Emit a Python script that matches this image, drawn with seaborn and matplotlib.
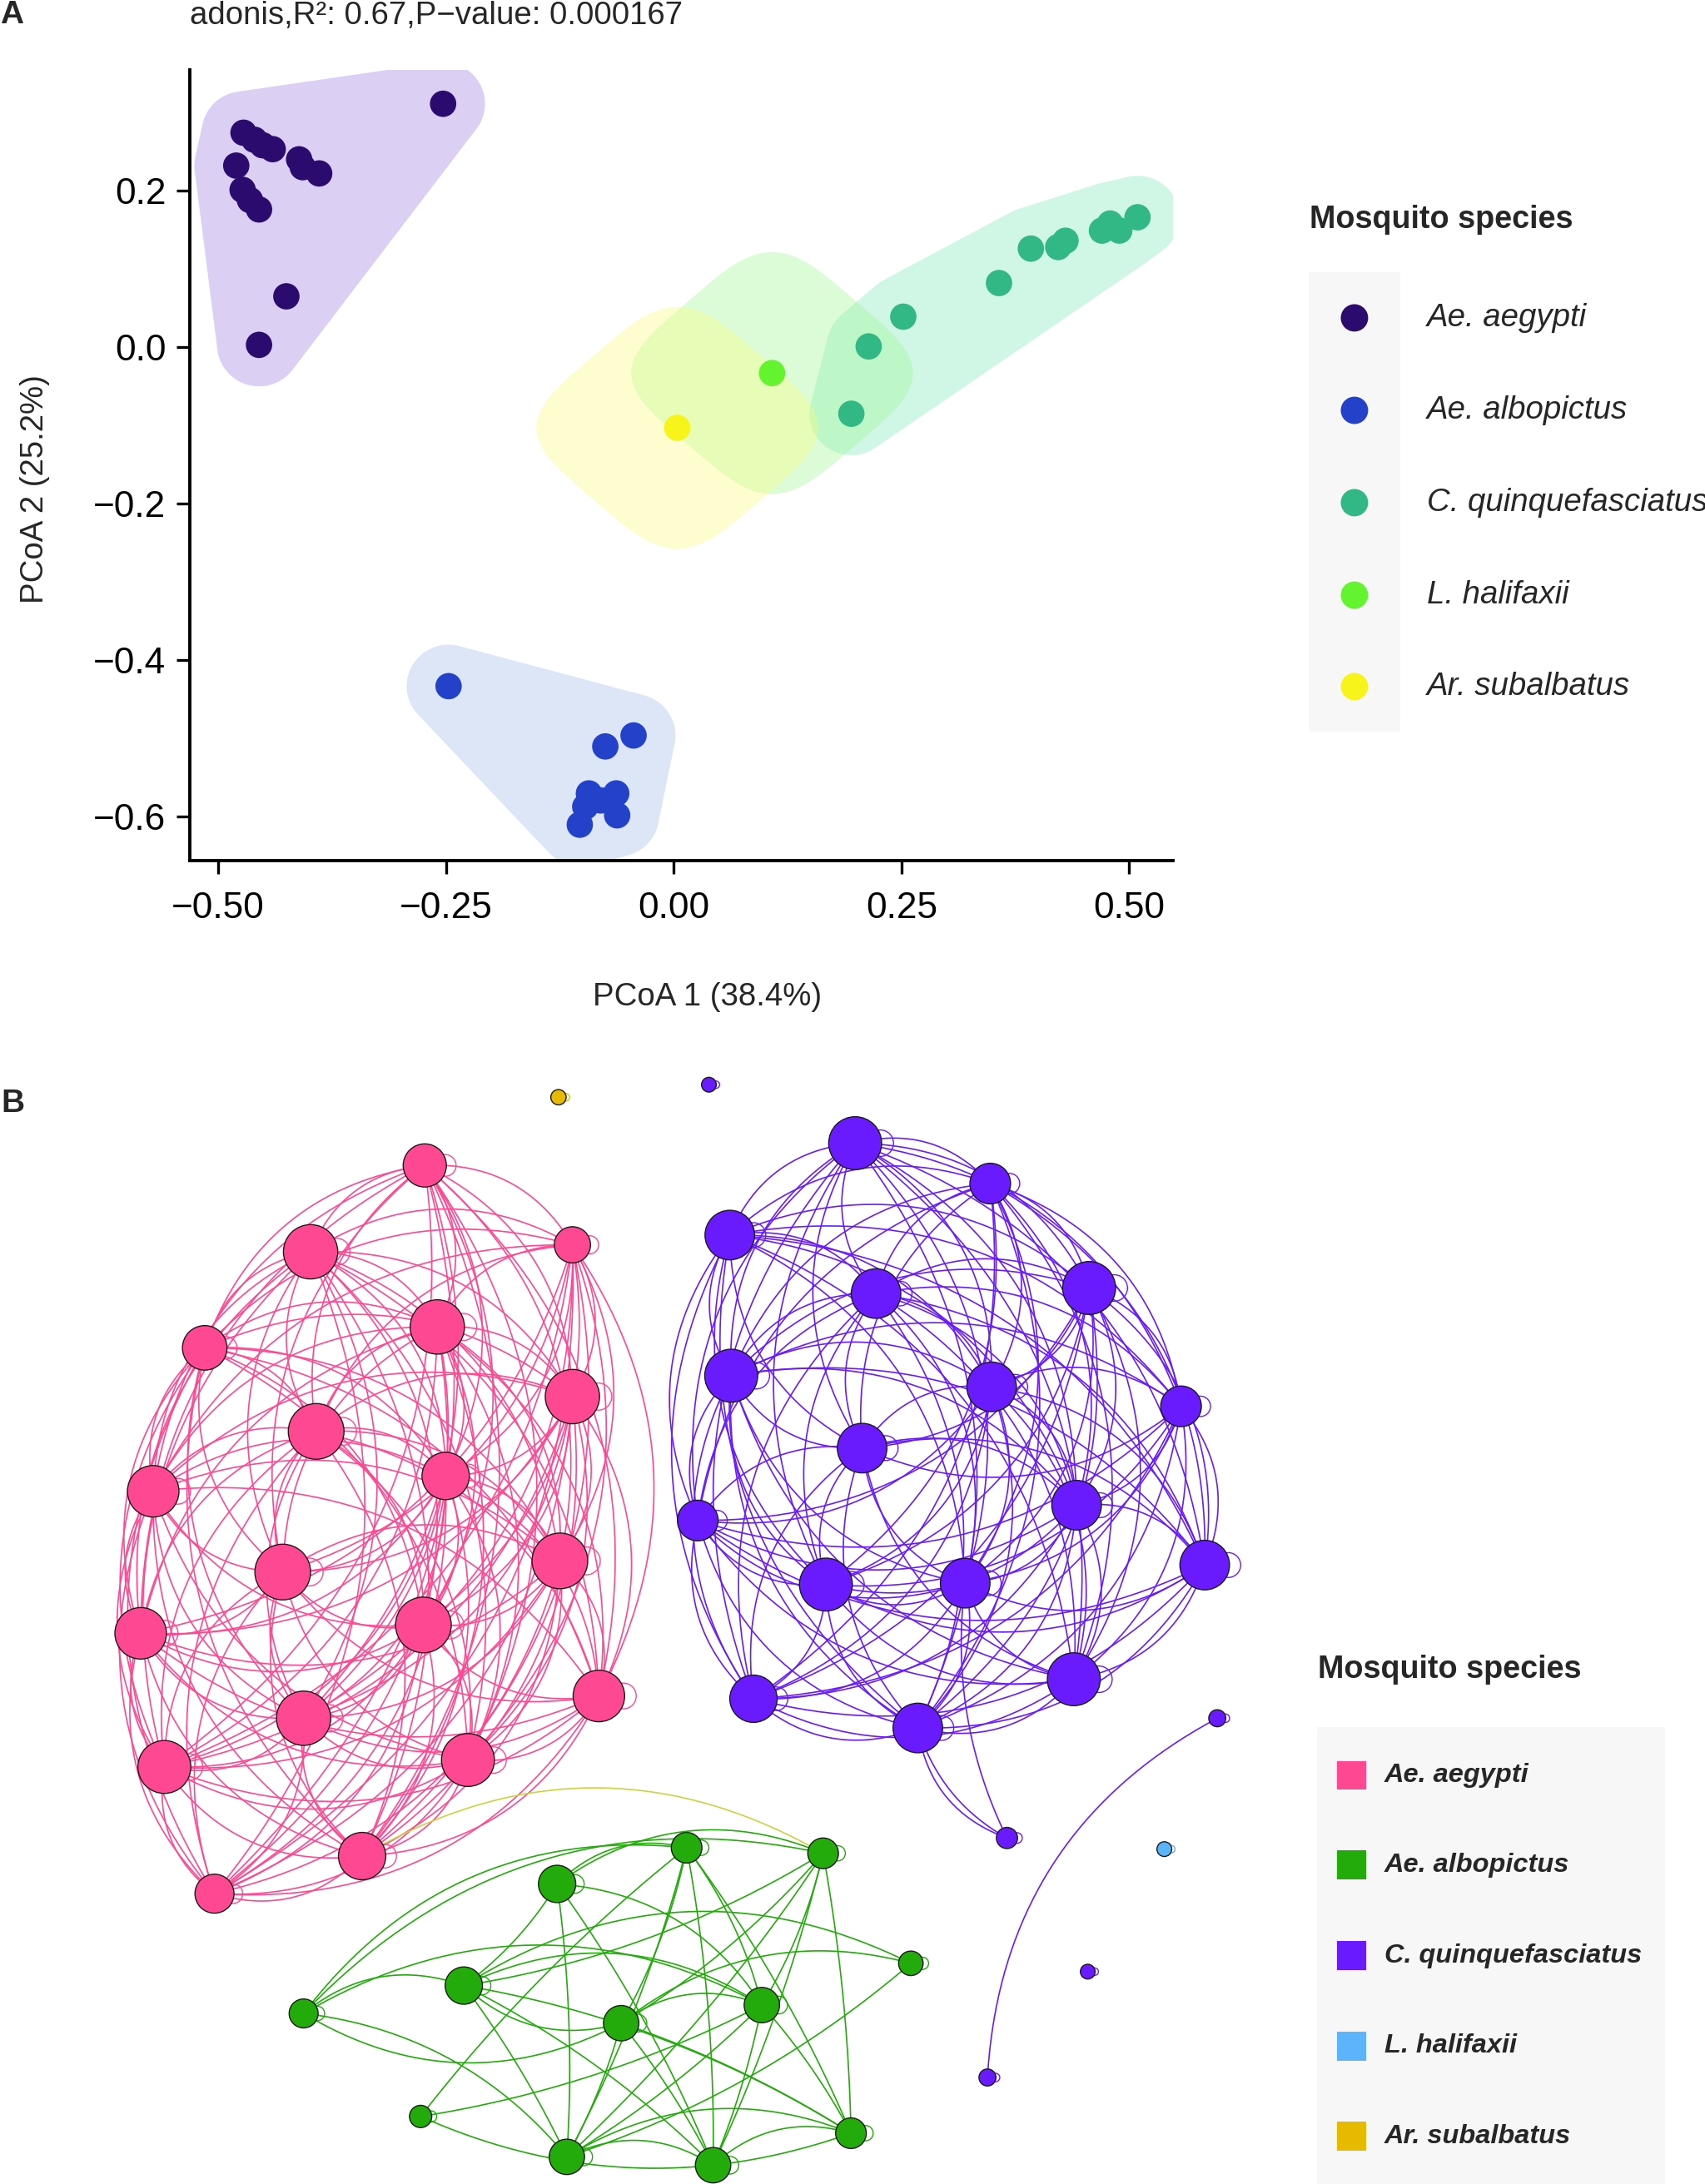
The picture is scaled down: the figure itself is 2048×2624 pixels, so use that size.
import numpy as np
import pandas as pd
import matplotlib
matplotlib.use("Agg")
import matplotlib.pyplot as plt
import seaborn as sns
from matplotlib.collections import LineCollection
from matplotlib.patches import Polygon, Rectangle, Circle

sns.set_theme(style="white")
plt.rcParams["font.family"] = ["Liberation Sans", "DejaVu Sans"]

#%% panel A data (PCoA)
species = ["Ae. aegypti", "Ae. albopictus", "C. quinquefasciatus", "L. halifaxii", "Ar. subalbatus"]
pcoa_colors = ["#2b0b6e", "#2342c9", "#31b885", "#63f42f", "#f7f41c"]
hull_colors = ["#9b76e2", "#9bb8e8", "#79e8b5", "#9bf990", "#fcfc79"]

aeg_x = [-0.253, -0.472, -0.460, -0.451, -0.440, -0.411, -0.407, -0.389, -0.480, -0.473, -0.465, -0.455, -0.425, -0.455]
aeg_y = [0.311, 0.274, 0.265, 0.258, 0.253, 0.240, 0.230, 0.222, 0.232, 0.201, 0.188, 0.176, 0.065, 0.003]
alb_x = [-0.247, -0.044, -0.075, -0.093, -0.063, -0.097, -0.062, -0.103, -0.080]
alb_y = [-0.433, -0.496, -0.510, -0.570, -0.570, -0.587, -0.598, -0.610, -0.579]
cqu_x = [0.195, 0.214, 0.252, 0.357, 0.392, 0.422, 0.430, 0.470, 0.479, 0.489, 0.509]
cqu_y = [-0.085, 0.001, 0.039, 0.082, 0.126, 0.128, 0.136, 0.149, 0.158, 0.149, 0.166]
lha_x = [0.108]
lha_y = [-0.033]
asu_x = [0.004]
asu_y = [-0.103]

pcoa_x_ticks = [-0.50, -0.25, 0.00, 0.25, 0.50]
pcoa_y_ticks = [-0.6, -0.4, -0.2, 0.0, 0.2]

#%% panel B data (network, layout units)
net_colors = ["#ff4891", "#22ab0a", "#6a1bfe", "#5cb4fa", "#e6ba00"]

pink_x = [305, 223, 411, 147, 314, 411, 227, 320, 110, 203, 402, 101, 304, 218, 430, 118, 336, 260, 154]
pink_y = [837, 899, 894, 968, 953, 1003, 1028, 1060, 1071, 1129, 1121, 1173, 1167, 1234, 1218, 1269, 1264, 1333, 1360]
pink_r = [15.5, 19.5, 13, 16, 19.5, 19.5, 20, 17, 18.5, 20, 20, 18.5, 20, 19.5, 18.5, 19, 19, 17, 14]

purple_x = [614, 711, 524, 629, 782, 525, 712, 848, 619, 501, 773, 593, 693, 865, 541, 771, 659,
            509, 874, 723, 781, 709]
purple_y = [821, 850, 887, 929, 925, 988, 996, 1010, 1040, 1092, 1081, 1138, 1137, 1124, 1220, 1206, 1241,
            779, 1234, 1320, 1416, 1492]
purple_r = [19, 14.6, 17.8, 17.8, 19, 19, 17.8, 14.6, 17.8, 14.6, 17.8, 19, 17.8, 17.8, 17, 19, 17.8,
            5.3, 6.1, 7.6, 5.3, 6.1]
purple_core = 17  # first 17 purple nodes form one fully connected module

green_x = [493, 591, 400, 654, 333, 218, 547, 446, 302, 611, 407, 512]
green_y = [1327, 1331, 1353, 1410, 1426, 1446, 1440, 1453, 1520, 1532, 1549, 1555]
green_r = [11, 11, 13.4, 8.8, 13.4, 10.4, 12.7, 12.7, 8, 11, 12.7, 12.7]

blue_x, blue_y, blue_r = [836], [1328], [5.3]
gold_x, gold_y, gold_r = [401], [788], [5.5]

# (from, to, curvature)
green_edges = [(5, 0, .28), (5, 1, .28), (5, 4, .28), (7, 5, .28), (5, 6, .28), (5, 10, .2),
               (2, 1, .28), (2, 0, .28), (2, 6, .25), (2, 10, .05), (2, 11, .06), (2, 4, .1),
               (0, 10, .06), (0, 11, .05), (0, 7, .08), (0, 9, .06), (0, 6, .1),
               (1, 4, .1), (1, 7, .08), (1, 11, .05), (1, 10, .06), (1, 9, .04), (1, 6, .08),
               (4, 3, .28), (7, 3, .25), (3, 10, .1), (4, 6, .28), (7, 4, .28), (4, 9, .1),
               (4, 10, .05), (4, 11, .08), (7, 6, .28), (6, 8, .08), (6, 9, .06), (6, 10, .06),
               (6, 11, .05), (7, 9, .06), (7, 10, .06), (7, 11, .05), (9, 8, .2), (8, 0, .06),
               (10, 11, .28), (11, 9, .28), (10, 9, .25)]
purple_extra_edges = [(19, 16, .2), (19, 16, .3), (19, 12, .15), (21, 18, .28)]
cross_edge = (17, 1, .29)  # pink node 17 -> green node 1
module_curvature = 0.3


def convex_hull(pts):
    pts = sorted(set(map(tuple, np.round(pts, 6))))

    def cross(o, a, b):
        return (a[0] - o[0]) * (b[1] - o[1]) - (a[1] - o[1]) * (b[0] - o[0])
    lower, upper = [], []
    for p in pts:
        while len(lower) >= 2 and cross(lower[-2], lower[-1], p) <= 0:
            lower.pop()
        lower.append(p)
    for p in reversed(pts):
        while len(upper) >= 2 and cross(upper[-2], upper[-1], p) <= 0:
            upper.pop()
        upper.append(p)
    return np.array(lower[:-1] + upper[:-1])


def mark_hull(px, py):
    t = np.linspace(0, 2 * np.pi, 72, endpoint=False)
    if len(px) == 1:
        u = np.sign(np.cos(t)) * np.abs(np.cos(t)) ** 0.5 * 0.13
        v = np.sign(np.sin(t)) * np.abs(np.sin(t)) ** 0.5 * 0.13
        kx, ky = (u - v) / np.sqrt(2), (u + v) / np.sqrt(2)
    else:
        kx, ky = 0.046 * np.cos(t), 0.053 * np.sin(t)
    pts = np.array([(a + dx, b + dy) for a, b in zip(px, py) for dx, dy in zip(kx, ky)])
    return convex_hull(pts)


def arc(p0, p1, c, n=40):
    p0, p1 = np.asarray(p0, float), np.asarray(p1, float)
    d = p1 - p0
    ctrl = (p0 + p1) / 2 + c * np.array([d[1], -d[0]])
    t = np.linspace(0, 1, n)[:, None]
    return (1 - t) ** 2 * p0 + 2 * (1 - t) * t * ctrl + t ** 2 * p1


def module_arcs(points, c):
    # every pair of a module linked by one arc, bent away from the module centre
    centre = np.mean(points, axis=0)
    out = []
    for i in range(len(points)):
        for j in range(i + 1, len(points)):
            p0, p1 = points[i], points[j]
            d = p1 - p0
            mid = (p0 + p1) / 2
            ctrl = mid + c * np.array([d[1], -d[0]])
            sign = 1 if np.linalg.norm(ctrl - centre) >= np.linalg.norm(mid - centre) else -1
            out.append(arc(p0, p1, sign * c))
    return out


#%% figure
fig = plt.figure(figsize=(10.24, 13.12), dpi=200)
fig.patch.set_facecolor("white")

# full-figure axes in layout units (used for panel B and free text)
axb = fig.add_axes([0, 0, 1, 1])
axb.set_xlim(0, 1224.2)
axb.set_ylim(1568.5, 0)
axb.axis("off")

# ---- panel A
axa = fig.add_axes([0.1113, 0.6059, 0.5767, 0.3620])
pcoa = pd.DataFrame({
    "x": aeg_x + alb_x + cqu_x + lha_x + asu_x,
    "y": aeg_y + alb_y + cqu_y + lha_y + asu_y,
    "species": [species[0]] * len(aeg_x) + [species[1]] * len(alb_x) + [species[2]] * len(cqu_x)
               + [species[3]] * len(lha_x) + [species[4]] * len(asu_x),
})
for sp, hc in zip(species, hull_colors):
    sub = pcoa[pcoa["species"] == sp]
    poly = mark_hull(sub["x"].values, sub["y"].values)
    axa.add_patch(Polygon(poly, closed=True, facecolor=hc, edgecolor="none", alpha=0.35, zorder=1))

sns.scatterplot(data=pcoa, x="x", y="y", hue="species", palette=dict(zip(species, pcoa_colors)),
                s=130, linewidth=0, legend=False, ax=axa, zorder=3)
axa.set_xlim(-0.531, 0.548)
axa.set_ylim(-0.656, 0.354)
axa.set_xticks(pcoa_x_ticks)
axa.set_xticklabels([f"{v:.2f}".replace("-", "\u2212") for v in pcoa_x_ticks])
axa.set_yticks(pcoa_y_ticks)
axa.set_yticklabels([f"{v:.1f}".replace("-", "\u2212") for v in pcoa_y_ticks])
axa.set_xlabel("")
axa.set_ylabel("")
sns.despine(ax=axa)
for s in ["left", "bottom"]:
    axa.spines[s].set_linewidth(1.4)
    axa.spines[s].set_color("black")
axa.tick_params(axis="both", which="major", length=5.8, width=1.2, color="black",
                labelsize=15.9, labelcolor="black", bottom=True, left=True)
axa.tick_params(axis="x", pad=7.5)
axa.tick_params(axis="y", pad=4.5)
axa.set_facecolor("white")

axb.text(0, 11, "A", fontsize=14, fontweight="bold", ha="left", va="center")
axb.text(136.3, 11.5, "adonis,R\u00b2: 0.67,P\u2212value: 0.000167", fontsize=13.8, ha="left", va="center")
axb.text(508, 716, "PCoA 1 (38.4%)", fontsize=13.8, ha="center", va="center")
axb.text(25, 351, "PCoA 2 (25.2%)", fontsize=13.8, ha="center", va="center", rotation=90)

# legend A
axb.text(940, 158, "Mosquito species", fontsize=13.6, fontweight="bold", ha="left", va="center")
axb.add_patch(Rectangle((939.6, 195.5), 65.8, 330, facecolor="#f7f7f7", edgecolor="none", zorder=0))
leg_a_y = [228.3, 294.7, 361.0, 427.4, 493.1]
axb.scatter([972.5] * 5, leg_a_y, s=140, c=pcoa_colors, linewidths=0, zorder=2)
for yy, sp in zip(leg_a_y, species):
    axb.text(1024.5, yy, sp, fontsize=13.8, style="italic", ha="left", va="center", clip_on=False)

# ---- panel B
axb.text(1, 792.6, "B", fontsize=14, fontweight="bold", ha="left", va="center")

nodes = pd.DataFrame({
    "x": pink_x + green_x + purple_x + blue_x + gold_x,
    "y": pink_y + green_y + purple_y + blue_y + gold_y,
    "r": pink_r + green_r + purple_r + blue_r + gold_r,
    "species": [species[0]] * len(pink_x) + [species[1]] * len(green_x) + [species[2]] * len(purple_x)
               + [species[3]] * len(blue_x) + [species[4]] * len(gold_x),
})
net_pal = dict(zip(species, net_colors))


def pts(xs, ys):
    return [np.array([a, b], float) for a, b in zip(xs, ys)]


pink_p, green_p, purple_p = pts(pink_x, pink_y), pts(green_x, green_y), pts(purple_x, purple_y)

segs_pink = module_arcs(pink_p, module_curvature)
segs_purple = module_arcs(purple_p[:purple_core], module_curvature)
segs_purple += [arc(purple_p[a], purple_p[b], c) for a, b, c in purple_extra_edges]
segs_green = [arc(green_p[a], green_p[b], c) for a, b, c in green_edges]
seg_cross = [arc(pink_p[cross_edge[0]], green_p[cross_edge[1]], cross_edge[2])]

axb.add_collection(LineCollection(segs_pink, colors=net_colors[0], linewidths=0.6, zorder=1))
axb.add_collection(LineCollection(segs_purple, colors=net_colors[2], linewidths=0.6, zorder=1))
axb.add_collection(LineCollection(segs_green, colors=net_colors[1], linewidths=0.6, zorder=1))
axb.add_collection(LineCollection(seg_cross, colors="#c9d43e", linewidths=0.6, zorder=1))

# self loops
for _, row in nodes.iterrows():
    axb.add_patch(Circle((row["x"] + 0.95 * row["r"], row["y"]), 0.5 * row["r"], fill=False,
                         edgecolor=net_pal[row["species"]], linewidth=0.5, zorder=1.5))

sns.scatterplot(data=nodes, x="x", y="y", hue="species", palette=net_pal,
                s=(1.2046 * nodes["r"]) ** 2, edgecolor="#1a1a1a", linewidth=0.5,
                legend=False, ax=axb, zorder=3)
axb.set_xlim(0, 1224.2)
axb.set_ylim(1568.5, 0)
axb.axis("off")

# legend B
axb.text(946.2, 1199, "Mosquito species", fontsize=13.6, fontweight="bold", ha="left", va="center")
axb.add_patch(Rectangle((945.6, 1240.3), 250, 330, facecolor="#f7f7f7", edgecolor="none", zorder=0,
                        clip_on=False))
leg_b_y = [1275, 1339.5, 1404.7, 1469.3, 1534.4]
for yy, sp, col in zip(leg_b_y, species, net_colors):
    axb.add_patch(Rectangle((960, yy - 10.45), 20.9, 20.9, facecolor=col, edgecolor="none", zorder=2))
    axb.text(994, yy, sp, fontsize=11.7, fontweight="bold", style="italic", ha="left", va="center")

fig.savefig("out.png", dpi=200, facecolor="white")
